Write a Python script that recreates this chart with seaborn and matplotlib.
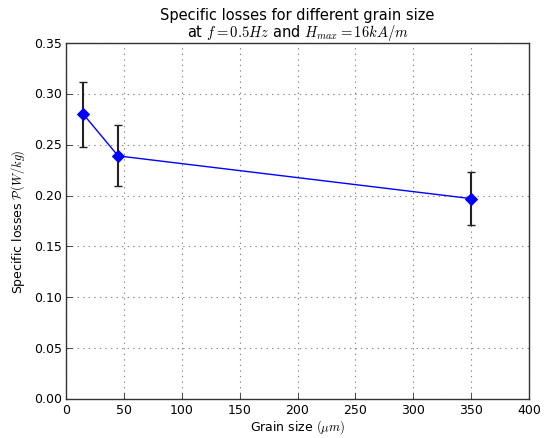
import matplotlib
matplotlib.use("Agg")
import matplotlib.pyplot as plt
import seaborn as sns
import pandas as pd

grain_size = [15, 45, 350]
losses = [0.280, 0.239, 0.197]
errors = [0.032, 0.030, 0.026]

plt.style.use("classic")
plt.rcParams["mathtext.fontset"] = "cm"
plt.rcParams["font.family"] = ["DejaVu Sans"]
plt.rcParams["font.size"] = 9

df = pd.DataFrame({"grain": grain_size, "loss": losses})

fig = plt.figure(figsize=(5.45, 4.39), dpi=100)
ax = fig.add_axes([66/545, 1-400/439, (529-66)/545, (400-44)/439])

ax.errorbar(grain_size, losses, yerr=errors, fmt="none", ecolor="#222222",
            elinewidth=1.5, capsize=3, capthick=1, zorder=2)
sns.lineplot(data=df, x="grain", y="loss", ax=ax, color="blue", marker="D",
             markersize=6.5, markeredgecolor="blue", linewidth=1, zorder=3)

ax.set_xlim(0, 400)
ax.set_ylim(0, 0.35)
ax.set_xticks(range(0, 401, 50))
ax.set_yticks([i * 0.05 for i in range(8)])
ax.set_yticklabels([f"{i*0.05:.2f}" for i in range(8)])
ax.grid(True, linestyle=":", color="#888888", linewidth=0.8)
ax.set_axisbelow(True)
ax.tick_params(direction="in", labelsize=9, pad=3, top=False, right=False)
for s in ax.spines.values():
    s.set_color("#333333")

ax.set_title("Specific losses for different grain size\nat $f=0.5Hz$ and $H_{max}=16kA/m$",
             fontsize=10.5, linespacing=1.0, pad=5)
ax.set_xlabel(r"Grain size $(\mu m)$", fontsize=9, labelpad=1)
ax.set_ylabel(r"Specific losses $\mathcal{P}(W/kg)$", fontsize=9, labelpad=5)

fig.savefig("out.png", dpi=100)
